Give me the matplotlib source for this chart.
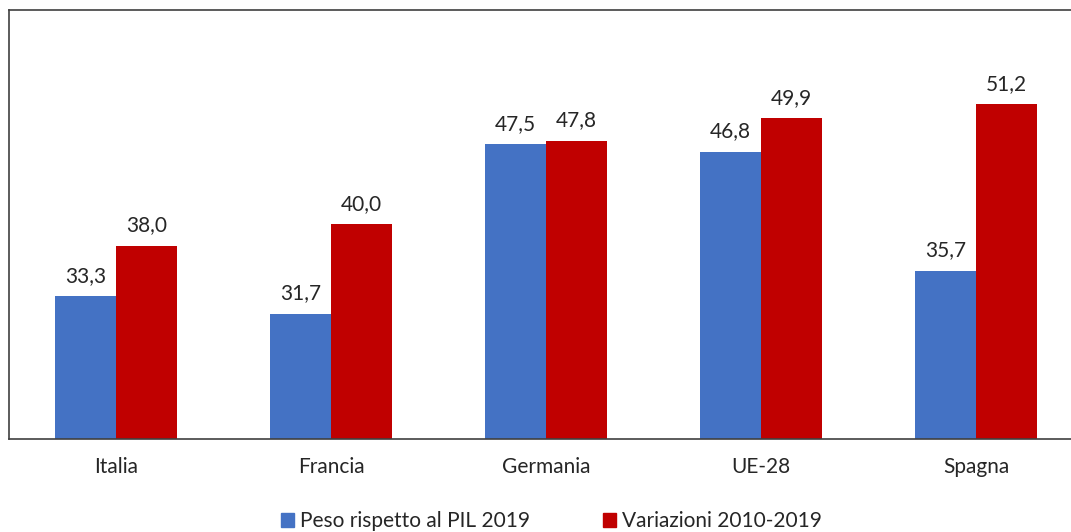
import numpy as np
import matplotlib.pyplot as plt
from matplotlib.patches import Patch

categories = ['Italia', 'Francia', 'Germania', 'UE-28', 'Spagna']
peso_pil = [33.3, 31.7, 47.5, 46.8, 35.7]
variazioni = [38.0, 40.0, 47.8, 49.9, 51.2]
series_names = ['Peso rispetto al PIL 2019', 'Variazioni 2010-2019']

plt.rcParams['font.family'] = ['Lato', 'DejaVu Sans']

blue = '#4472C4'
red = '#C00000'
txt = '#262626'

fig = plt.figure(figsize=(10.71, 5.32), dpi=100)
# axes runs a bit past the right border, as in the original crop
ax = fig.add_axes([8.5 / 1071, 93 / 532, 1075 / 1071, 429 / 532])

x = np.arange(len(categories))
w = 0.284
b1 = ax.bar(x - w / 2, peso_pil, w, color=blue, label=series_names[0])
b2 = ax.bar(x + w / 2, variazioni, w, color=red, label=series_names[1])

for bars, vals in ((b1, peso_pil), (b2, variazioni)):
    for bar, v in zip(bars, vals):
        ax.annotate(('%.1f' % v).replace('.', ','),
                    (bar.get_x() + bar.get_width() / 2, v),
                    xytext=(0, 7.5), textcoords='offset points',
                    ha='center', va='bottom', fontsize=15, color=txt)

ax.set_xlim(-0.5, 4.5)
ax.set_ylim(20, 60)
ax.set_xticks(x)
ax.set_xticklabels(categories, fontsize=15, color=txt)
ax.set_yticks([])
ax.tick_params(axis='x', length=0, pad=13)

for s in ['left', 'top', 'bottom']:
    ax.spines[s].set_color('#404040')
    ax.spines[s].set_linewidth(1.2)
ax.spines['right'].set_visible(False)

handles = [Patch(color=blue), Patch(color=red)]
fig.legend(handles, series_names, loc='center', bbox_to_anchor=(0.515, 0.02),
           ncol=2, frameon=False, fontsize=15, handlelength=0.6,
           handleheight=0.6, handletextpad=0.3, columnspacing=3.5,
           labelcolor=txt)

fig.savefig('out.png', dpi=100)
